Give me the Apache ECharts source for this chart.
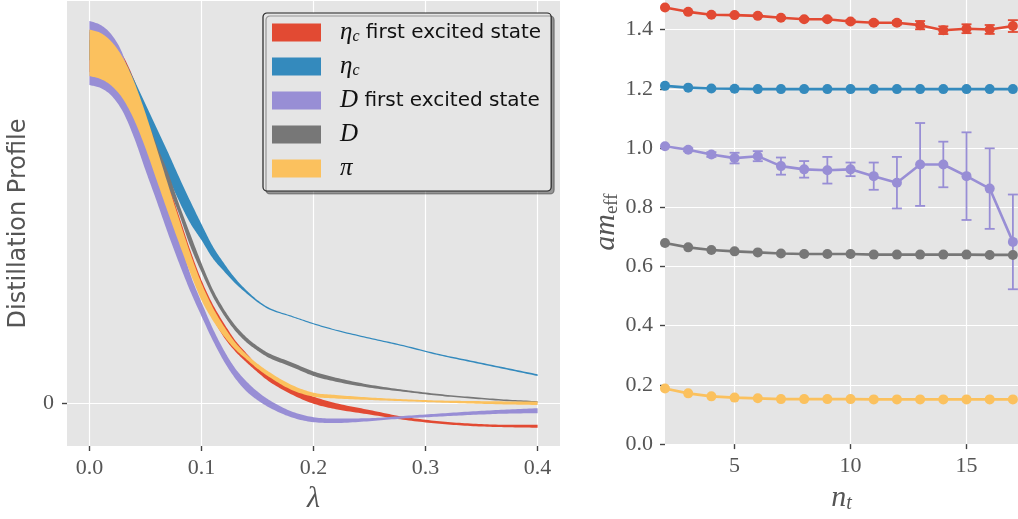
<!DOCTYPE html>
<html><head><meta charset="utf-8">
<script src="https://cdn.jsdelivr.net/npm/echarts@6/dist/echarts.min.js"></script>
<style>html,body{margin:0;padding:0;background:#fff}#c{width:1018px;height:519px}</style>
</head><body><div id="c"></div>
<script>
// ---------- left panel: distillation profiles (bands: upper / lower edges) ----------
const lambda = [0, 0.01, 0.02, 0.03, 0.04, 0.05, 0.06, 0.07, 0.08, 0.09, 0.10, 0.11, 0.12, 0.13, 0.14, 0.15, 0.16, 0.18, 0.20, 0.22, 0.25, 0.28, 0.31, 0.34, 0.37, 0.40];
const lambdaTicks = [0, 0.1, 0.2, 0.3, 0.4];

const etaExcUpper = [0.9275, 0.92, 0.90, 0.8675, 0.8075, 0.73, 0.6425, 0.5525, 0.4675, 0.3825, 0.3075, 0.2475, 0.20, 0.1575, 0.125, 0.095, 0.0725, 0.0388, 0.0163, 0, -0.017, -0.0338, -0.0445, -0.0508, -0.0538, -0.0538];
const etaExcLower = [0.8275, 0.8175, 0.7975, 0.7675, 0.7275, 0.6575, 0.57, 0.495, 0.415, 0.3375, 0.2675, 0.2125, 0.165, 0.13, 0.1025, 0.0775, 0.055, 0.0225, -0.0013, -0.015, -0.0283, -0.0413, -0.0508, -0.057, -0.06, -0.0613];

const etaUpper = [0.9325, 0.925, 0.9025, 0.8625, 0.8075, 0.7475, 0.6875, 0.6275, 0.565, 0.505, 0.4475, 0.3925, 0.35, 0.3125, 0.2825, 0.2575, 0.2388, 0.2188, 0.20, 0.1838, 0.164, 0.1453, 0.1243, 0.1068, 0.0895, 0.0723];
const etaLower = [0.8575, 0.845, 0.8225, 0.7875, 0.7675, 0.6975, 0.6325, 0.5675, 0.505, 0.45, 0.4075, 0.3625, 0.33, 0.30, 0.275, 0.2525, 0.235, 0.216, 0.197, 0.1808, 0.1608, 0.142, 0.1208, 0.103, 0.0855, 0.0678];

const dExcUpper = [0.955, 0.945, 0.92, 0.87, 0.77, 0.6875, 0.595, 0.5075, 0.4175, 0.3225, 0.2525, 0.1875, 0.1325, 0.0875, 0.055, 0.029, 0.0088, -0.02, -0.035, -0.0383, -0.0375, -0.032, -0.0263, -0.0208, -0.0163, -0.0125];
const dExcLower = [0.795, 0.7875, 0.7675, 0.7275, 0.6625, 0.5825, 0.505, 0.425, 0.35, 0.28, 0.2175, 0.1575, 0.105, 0.0625, 0.03, 0.0075, -0.01, -0.035, -0.0475, -0.0495, -0.045, -0.0383, -0.0338, -0.0295, -0.0263, -0.025];

const dUpper = [0.9075, 0.895, 0.875, 0.8425, 0.795, 0.7225, 0.645, 0.5775, 0.4975, 0.4225, 0.35, 0.285, 0.235, 0.195, 0.165, 0.1425, 0.125, 0.1025, 0.0793, 0.0638, 0.0463, 0.0338, 0.0235, 0.0158, 0.0095, 0.005];
const dLower = [0.8575, 0.8425, 0.82, 0.7875, 0.7575, 0.6875, 0.6075, 0.5425, 0.4725, 0.3925, 0.3275, 0.2675, 0.22, 0.1813, 0.1525, 0.1313, 0.1138, 0.0913, 0.068, 0.0538, 0.0388, 0.0288, 0.019, 0.0118, 0.0055, 0.0013];

const piUpper = [0.934, 0.925, 0.9025, 0.8625, 0.8025, 0.725, 0.6375, 0.5475, 0.46, 0.375, 0.30, 0.24, 0.1925, 0.1525, 0.1225, 0.0988, 0.0788, 0.0463, 0.0263, 0.0205, 0.0143, 0.010, 0.0068, 0.0055, 0.0045, 0.0043];
const piLower = [0.8175, 0.81, 0.7925, 0.76, 0.7075, 0.6375, 0.5575, 0.4775, 0.40, 0.325, 0.2575, 0.2075, 0.1675, 0.135, 0.11, 0.0863, 0.0663, 0.0338, 0.0163, 0.0118, 0.008, 0.005, 0.0018, -0.0008, -0.003, -0.0045];

// ---------- right panel: effective masses vs n_t ----------
const nt = [2, 3, 4, 5, 6, 7, 8, 9, 10, 11, 12, 13, 14, 15, 16, 17];
const ntTicks = [5, 10, 15];
const massTicks = [0, 0.2, 0.4, 0.6, 0.8, 1.0, 1.2, 1.4];
const etaExcMass = [1.4745, 1.460, 1.450, 1.449, 1.4465, 1.440, 1.435, 1.435, 1.4275, 1.423, 1.423, 1.415, 1.398, 1.403, 1.4005, 1.412];
const etaExcErr  = [0.002, 0.002, 0.002, 0.003, 0.003, 0.003, 0.004, 0.004, 0.005, 0.005, 0.006, 0.014, 0.013, 0.015, 0.015, 0.02];
const etaMass    = [1.210, 1.204, 1.201, 1.200, 1.199, 1.199, 1.199, 1.199, 1.199, 1.199, 1.199, 1.199, 1.199, 1.199, 1.199, 1.199];
const dExcMass   = [1.006, 0.994, 0.978, 0.966, 0.9725, 0.939, 0.928, 0.925, 0.928, 0.905, 0.883, 0.9445, 0.9445, 0.905, 0.863, 0.683];
const dExcErr    = [0.003, 0.005, 0.008, 0.018, 0.017, 0.029, 0.028, 0.045, 0.023, 0.046, 0.087, 0.14, 0.077, 0.148, 0.136, 0.16];
const dMass      = [0.679, 0.6645, 0.6555, 0.651, 0.6475, 0.644, 0.642, 0.642, 0.642, 0.640, 0.640, 0.640, 0.640, 0.640, 0.639, 0.639];
const piMass     = [0.188, 0.1714, 0.1613, 0.157, 0.1546, 0.152, 0.152, 0.152, 0.152, 0.151, 0.151, 0.151, 0.151, 0.151, 0.151, 0.151];

const RED = '#E24A33', BLUE = '#348ABD', PURPLE = '#988ED5', GRAY = '#777777', YELLOW = '#FBC15E';
const BG = '#E5E5E5', TXT = '#555555';
const SERIF = "'Liberation Serif', 'DejaVu Serif', serif";
const SANS = "'DejaVu Sans', sans-serif";

const legendRich = {
  m: {fontFamily: SERIF, fontStyle: 'italic', fontSize: 25, lineHeight: 18, color: '#111'},
  s: {fontFamily: SERIF, fontStyle: 'italic', fontSize: 16, lineHeight: 10, padding: [9, 0, 0, 0], color: '#111'},
  t: {fontFamily: SANS, fontSize: 20, lineHeight: 18, color: '#111'}
};
const legendText = {
  'etaExc': '{m|η}{s|c}{t| first excited state}',
  'eta': '{m|η}{s|c}',
  'dExc': '{m|D}{t| first excited state}',
  'd': '{m|D}',
  'pi': '{m|π}'
};

// smooth (monotone cubic) sampling of pixel points returned by the axis scales
function smoothPts(p) {
  const n = p.length, d = [], m = new Array(n);
  for (let i = 0; i < n - 1; i++) d.push((p[i + 1][1] - p[i][1]) / (p[i + 1][0] - p[i][0]));
  m[0] = d[0]; m[n - 1] = d[n - 2];
  for (let i = 1; i < n - 1; i++) m[i] = (d[i - 1] * d[i] <= 0) ? 0 : (d[i - 1] + d[i]) / 2;
  for (let i = 0; i < n - 1; i++) {
    if (d[i] === 0) { m[i] = 0; m[i + 1] = 0; continue; }
    const a = m[i] / d[i], b = m[i + 1] / d[i], s = a * a + b * b;
    if (s > 9) { const t = 3 / Math.sqrt(s); m[i] = t * a * d[i]; m[i + 1] = t * b * d[i]; }
  }
  const out = [];
  for (let i = 0; i < n - 1; i++) {
    const h = p[i + 1][0] - p[i][0], steps = 12;
    for (let k = 0; k < steps; k++) {
      const t = k / steps, t2 = t * t, t3 = t2 * t;
      const h00 = 2 * t3 - 3 * t2 + 1, h10 = t3 - 2 * t2 + t, h01 = -2 * t3 + 3 * t2, h11 = t3 - t2;
      out.push([p[i][0] + t * h, h00 * p[i][1] + h10 * h * m[i] + h01 * p[i + 1][1] + h11 * h * m[i + 1]]);
    }
  }
  out.push(p[n - 1]);
  return out;
}

function band(key, color, lo, hi) {
  return {
    type: 'custom', name: key, xAxisIndex: 0, yAxisIndex: 0, clip: true, silent: true, z: 2,
    color: color, itemStyle: {color: color},
    data: [[lambda[0], lo[0]]], encode: {x: 0, y: 1},
    renderItem: function (params, api) {
      const up = smoothPts(lambda.map((x, i) => api.coord([x, hi[i]])));
      const dn = smoothPts(lambda.map((x, i) => api.coord([x, lo[i]])));
      return {type: 'polygon', shape: {points: up.concat(dn.reverse())}, style: {fill: color, stroke: null}};
    }
  };
}

function errBars(color, vals, errs) {
  return {
    type: 'custom', xAxisIndex: 1, yAxisIndex: 1, clip: true, silent: true, z: 3,
    data: nt.map((x, i) => [x, vals[i], errs[i]]),
    encode: {x: 0, y: 1},
    renderItem: function (params, api) {
      const x = api.value(0), y = api.value(1), e = api.value(2);
      const top = api.coord([x, y + e]), bot = api.coord([x, y - e]);
      const hw = 5, st = {stroke: color, lineWidth: 1.8};
      return {type: 'group', children: [
        {type: 'line', shape: {x1: top[0], y1: top[1], x2: bot[0], y2: bot[1]}, style: st},
        {type: 'line', shape: {x1: top[0] - hw, y1: top[1], x2: top[0] + hw, y2: top[1]}, style: st},
        {type: 'line', shape: {x1: bot[0] - hw, y1: bot[1], x2: bot[0] + hw, y2: bot[1]}, style: st}
      ]};
    }
  };
}

function massLine(color, vals) {
  return {type: 'line', xAxisIndex: 1, yAxisIndex: 1, data: nt.map((x, i) => [x, vals[i]]),
    symbol: 'circle', symbolSize: 10, showSymbol: true, color: color, itemStyle: {color: color},
    lineStyle: {width: 2.6, color: color}, silent: true, z: 4, clip: true};
}

const tickStyle = {show: true, inside: false, length: 5, lineStyle: {color: '#444444', width: 1.4}};
const labelStyle = {color: TXT, fontFamily: SERIF, fontSize: 22};
const split = {show: true, lineStyle: {color: '#ffffff', width: 1.2}};
const hiddenLine = {show: true, onZero: false, lineStyle: {color: 'rgba(0,0,0,0)', width: 0}};

const option = {
  animation: false,
  backgroundColor: '#ffffff',
  grid: [
    {left: 67, right: 458, top: 1, bottom: 73, show: true, backgroundColor: BG, borderWidth: 0},
    {left: 665, right: 0, top: 0, bottom: 73, show: true, backgroundColor: BG, borderWidth: 0}
  ],
  xAxis: [
    {type: 'value', gridIndex: 0, min: -0.02, max: 0.42, position: 'bottom',
     axisLine: hiddenLine,
     axisTick: Object.assign({customValues: lambdaTicks}, tickStyle),
     axisLabel: Object.assign({customValues: lambdaTicks, formatter: v => v.toFixed(1), margin: 11}, labelStyle),
     splitLine: split,
     name: 'λ', nameLocation: 'middle', nameGap: 38,
     nameTextStyle: {fontFamily: SERIF, fontStyle: 'italic', fontSize: 30, color: TXT}},
    {type: 'value', gridIndex: 1, min: 2, max: 17.22, position: 'bottom',
     axisLine: hiddenLine,
     axisTick: Object.assign({customValues: ntTicks}, tickStyle),
     axisLabel: Object.assign({customValues: ntTicks, formatter: v => String(v), margin: 11}, labelStyle),
     splitLine: split,
     name: '{i|n}{s|t}', nameLocation: 'middle', nameGap: 38,
     nameTextStyle: {color: TXT, rich: {
       i: {fontFamily: SERIF, fontStyle: 'italic', fontSize: 30, lineHeight: 26, color: TXT},
       s: {fontFamily: SERIF, fontStyle: 'italic', fontSize: 20, lineHeight: 16, padding: [12, 0, 0, 0], color: TXT}}}}
  ],
  yAxis: [
    {type: 'value', gridIndex: 0, min: -0.107, max: 1.005, position: 'left',
     axisLine: hiddenLine,
     axisTick: Object.assign({customValues: [0]}, tickStyle),
     axisLabel: Object.assign({customValues: [0], formatter: () => '0', margin: 13}, labelStyle),
     splitLine: split,
     name: 'Distillation Profile', nameLocation: 'middle', nameRotate: 90, nameGap: 36,
     nameTextStyle: {fontFamily: SANS, fontSize: 24, color: TXT}},
    {type: 'value', gridIndex: 1, min: 0, max: 1.5, position: 'left',
     axisLine: hiddenLine,
     axisTick: Object.assign({customValues: massTicks}, tickStyle),
     axisLabel: Object.assign({customValues: massTicks, formatter: v => v.toFixed(1), margin: 12}, labelStyle),
     splitLine: split,
     name: '{i|am}{s|eff}', nameLocation: 'middle', nameRotate: 90, nameGap: 42,
     nameTextStyle: {color: TXT, rich: {
       i: {fontFamily: SERIF, fontStyle: 'italic', fontSize: 30, lineHeight: 26, color: TXT},
       s: {fontFamily: SERIF, fontSize: 19, lineHeight: 16, padding: [12, 0, 0, 0], color: TXT}}}}
  ],
  legend: {
    show: true, orient: 'vertical', left: 263, top: 13,
    padding: [7, 10, 10, 9], itemGap: 9, itemWidth: 49, itemHeight: 18,
    backgroundColor: BG, borderColor: '#222', borderWidth: 1.2, borderRadius: 4,
    shadowColor: 'rgba(0,0,0,0.35)', shadowOffsetX: 3, shadowOffsetY: 3, shadowBlur: 0,
    selectedMode: false,
    data: [
      {name: 'etaExc', icon: 'rect', itemStyle: {color: RED}},
      {name: 'eta', icon: 'rect', itemStyle: {color: BLUE}},
      {name: 'dExc', icon: 'rect', itemStyle: {color: PURPLE}},
      {name: 'd', icon: 'rect', itemStyle: {color: GRAY}},
      {name: 'pi', icon: 'rect', itemStyle: {color: YELLOW}}
    ],
    formatter: name => legendText[name],
    textStyle: {padding: [0, 0, 0, 14], rich: legendRich}
  },
  series: [
    band('etaExc', RED, etaExcLower, etaExcUpper),
    band('eta', BLUE, etaLower, etaUpper),
    band('dExc', PURPLE, dExcLower, dExcUpper),
    band('d', GRAY, dLower, dUpper),
    band('pi', YELLOW, piLower, piUpper),
    errBars(RED, etaExcMass, etaExcErr), errBars(PURPLE, dExcMass, dExcErr),
    massLine(RED, etaExcMass), massLine(BLUE, etaMass), massLine(PURPLE, dExcMass),
    massLine(GRAY, dMass), massLine(YELLOW, piMass)
  ]
};

const chart = echarts.init(document.getElementById('c'), null, {renderer: 'canvas'});
chart.setOption(option);
</script>
</body></html>
